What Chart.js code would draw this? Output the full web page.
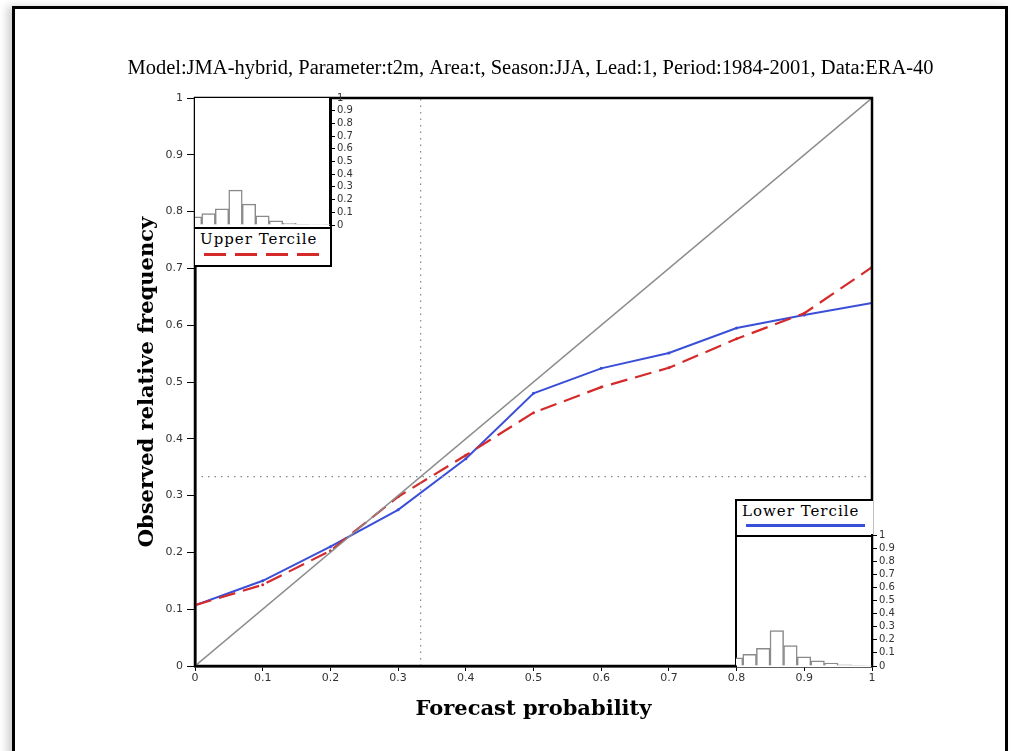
<!DOCTYPE html>
<html>
<head>
<meta charset="utf-8">
<script src="https://cdn.jsdelivr.net/npm/chart.js@4.4.1/dist/chart.umd.min.js"></script>
<style>
    body { margin: 0; background: #fff; width: 1011px; height: 751px; overflow: hidden; position: relative; }
    #page { position: absolute; left: 12px; top: 6px; width: 990px; height: 800px; border: 3px solid #000; box-shadow: -5px 0 8px rgba(0,0,0,0.18); }
    canvas { position: absolute; }
    .inset { position: absolute; background: #fff; box-sizing: border-box; }
    .key { position: absolute; left: 0; width: 100%; box-sizing: border-box; font-family: "DejaVu Serif", serif; font-size: 15px; letter-spacing: 1px; color: #000; }
    .key span { position: absolute; left: 5px; top: 1px; white-space: nowrap; }
    .key i { position: absolute; height: 3px; }
</style>
</head>
<body>
<div id="page"></div>
<canvas id="mainChart" width="1011" height="751" style="left:0;top:0"></canvas>

<div class="inset" style="left:195px;top:98px;width:137px;height:169px;border-right:2.5px solid #000;border-bottom:2.5px solid #000">
    <div class="key" style="top:129px;height:38px;border-top:2px solid #000">
        <span>Upper Tercile</span>
        <i style="left:9px;right:6px;top:24px;background:repeating-linear-gradient(to right,#d42a2a 0 22px,transparent 22px 31px)"></i>
    </div>
</div>
<div class="inset" style="left:735px;top:499px;width:138px;height:168px;border-left:2.5px solid #000;border-top:2px solid #000">
    <div class="key" style="top:0;height:36px;border-bottom:2px solid #000">
        <span>Lower Tercile</span>
        <i style="left:9px;right:8px;top:23px;background:#3a4fd8"></i>
    </div>
</div>

<canvas id="upperHist" width="170" height="145" style="left:195px;top:88px"></canvas>
<canvas id="lowerHist" width="170" height="150" style="left:736px;top:525px"></canvas>

<script>
// Prognosewahrscheinlichkeit (x) und beobachtete Häufigkeit (y)
const probBins = [0, 0.1, 0.2, 0.3, 0.4, 0.5, 0.6, 0.7, 0.8, 0.9, 1.0];
const lowerObs = [0.107, 0.150, 0.210, 0.275, 0.365, 0.480, 0.524, 0.551, 0.595, 0.618, 0.639];
const upperObs = [0.107, 0.143, 0.203, 0.298, 0.371, 0.446, 0.491, 0.525, 0.576, 0.621, 0.702];

// Häufigkeit der Prognosen je Klasse (Insets)
const upperHist = [0.064, 0.090, 0.128, 0.275, 0.165, 0.072, 0.033, 0.013, 0.006, 0.004, 0.003];
const lowerHist = [0.063, 0.090, 0.135, 0.270, 0.155, 0.070, 0.040, 0.023, 0.008, 0.006, 0.004];

const perfectLine = [0, 1];
const climProb = 1 / 3;
const axisTicks = [0, 0.1, 0.2, 0.3, 0.4, 0.5, 0.6, 0.7, 0.8, 0.9, 1];

const titleText = 'Model:JMA-hybrid, Parameter:t2m, Area:t, Season:JJA, Lead:1, Period:1984-2001, Data:ERA-40';

function fmt(v) {
    return String(+(+v).toFixed(1));
}

function pairs(xs, ys) {
    return xs.map((x, i) => ({ x: x, y: ys[i] }));
}

// Rahmen um die Plotfläche
const framePlugin = {
    id: 'frame',
    afterDatasetsDraw(chart) {
        const a = chart.chartArea;
        const ctx = chart.ctx;
        ctx.save();
        ctx.lineWidth = 2.5;
        ctx.strokeStyle = '#000';
        ctx.strokeRect(a.left, a.top, a.right - a.left, a.bottom - a.top);
        ctx.restore();
    }
};

const tickFont = { family: 'DejaVu Sans', size: 11 };
const titleFont = { family: 'DejaVu Serif', size: 21, weight: 'bold' };

new Chart(document.getElementById('mainChart'), {
    type: 'line',
    data: {
        datasets: [
            {
                data: pairs(perfectLine, perfectLine),
                borderColor: '#8c8c8c', borderWidth: 1.5, pointRadius: 0
            },
            {
                data: pairs([climProb, climProb], perfectLine),
                borderColor: '#888', borderWidth: 1.2, borderDash: [1.5, 5], pointRadius: 0
            },
            {
                data: pairs(perfectLine, [climProb, climProb]),
                borderColor: '#888', borderWidth: 1.2, borderDash: [1.5, 5], pointRadius: 0
            },
            {
                data: pairs(probBins, upperObs),
                borderColor: '#d42a2a', backgroundColor: '#d42a2a',
                borderWidth: 2.2, borderDash: [17, 8], pointRadius: 1.5, pointBorderWidth: 0
            },
            {
                data: pairs(probBins, lowerObs),
                borderColor: '#3a4fd8', backgroundColor: '#3a4fd8',
                borderWidth: 2, pointRadius: 1.5, pointBorderWidth: 0
            }
        ]
    },
    options: {
        responsive: false,
        animation: false,
        devicePixelRatio: 1,
        layout: { padding: { left: 50, right: 0, top: 0, bottom: 25 } },
        plugins: {
            legend: { display: false },
            tooltip: { enabled: false },
            title: {
                display: true,
                text: titleText,
                color: '#000',
                font: { family: 'Liberation Serif', size: 20.5, weight: 'normal', lineHeight: 1.2 },
                padding: { top: 56, bottom: 17.4 }
            }
        },
        scales: {
            x: {
                type: 'linear', min: 0, max: 1,
                afterFit(s) { s.height = 60; },
                afterBuildTicks(s) { s.ticks = axisTicks.map(v => ({ value: v })); },
                ticks: { callback: fmt, font: tickFont, color: '#333', padding: 1, maxRotation: 0 },
                grid: { drawOnChartArea: false, tickLength: 5, color: '#000' },
                border: { color: '#000', width: 2.5 },
                title: { display: true, text: 'Forecast probability', color: '#000', font: titleFont, padding: { top: 0, bottom: 4 } }
            },
            y: {
                type: 'linear', min: 0, max: 1,
                afterFit(s) { s.width = 145; },
                afterBuildTicks(s) { s.ticks = axisTicks.map(v => ({ value: v })); },
                ticks: { callback: fmt, font: tickFont, color: '#333', padding: 4 },
                grid: { drawOnChartArea: false, tickLength: 8, color: '#000' },
                border: { color: '#000', width: 2.5 },
                title: { display: true, text: 'Observed relative frequency', color: '#000', font: titleFont, padding: { top: 85, bottom: 0 } }
            },
            // leere Achse rechts, damit der Titel über die volle Breite zentriert bleibt
            side: {
                type: 'linear', position: 'right', display: true,
                afterFit(s) { s.width = 139; },
                ticks: { display: false },
                grid: { display: false },
                border: { display: false }
            }
        }
    },
    plugins: [framePlugin]
});

function histChart(id, values, axisWidth, pad) {
    new Chart(document.getElementById(id), {
        type: 'bar',
        data: {
            datasets: [{
                data: pairs(probBins, values),
                backgroundColor: '#fff',
                borderColor: '#8a8a8a',
                borderWidth: 1.5,
                barPercentage: 1,
                categoryPercentage: 1
            }]
        },
        options: {
            responsive: false,
            animation: false,
            devicePixelRatio: 1,
            layout: { padding: pad },
            plugins: { legend: { display: false }, tooltip: { enabled: false }, title: { display: false } },
            scales: {
                x: { type: 'linear', min: 0, max: 1, offset: false, display: false },
                y: {
                    type: 'linear', position: 'right', min: 0, max: 1,
                    afterFit(s) { s.width = axisWidth; },
                    afterBuildTicks(s) { s.ticks = axisTicks.map(v => ({ value: v })); },
                    ticks: { callback: fmt, font: { family: 'DejaVu Sans', size: 10 }, color: '#333', padding: 2, autoSkip: false },
                    grid: { drawOnChartArea: false, tickLength: 5, color: '#000' },
                    border: { color: '#000', width: 2 }
                }
            }
        }
    });
}

histChart('upperHist', upperHist, 35, { left: 0, right: 0, top: 10, bottom: 5 });
histChart('lowerHist', lowerHist, 34, { left: 0, right: 0, top: 10, bottom: 9 });
</script>
</body>
</html>
